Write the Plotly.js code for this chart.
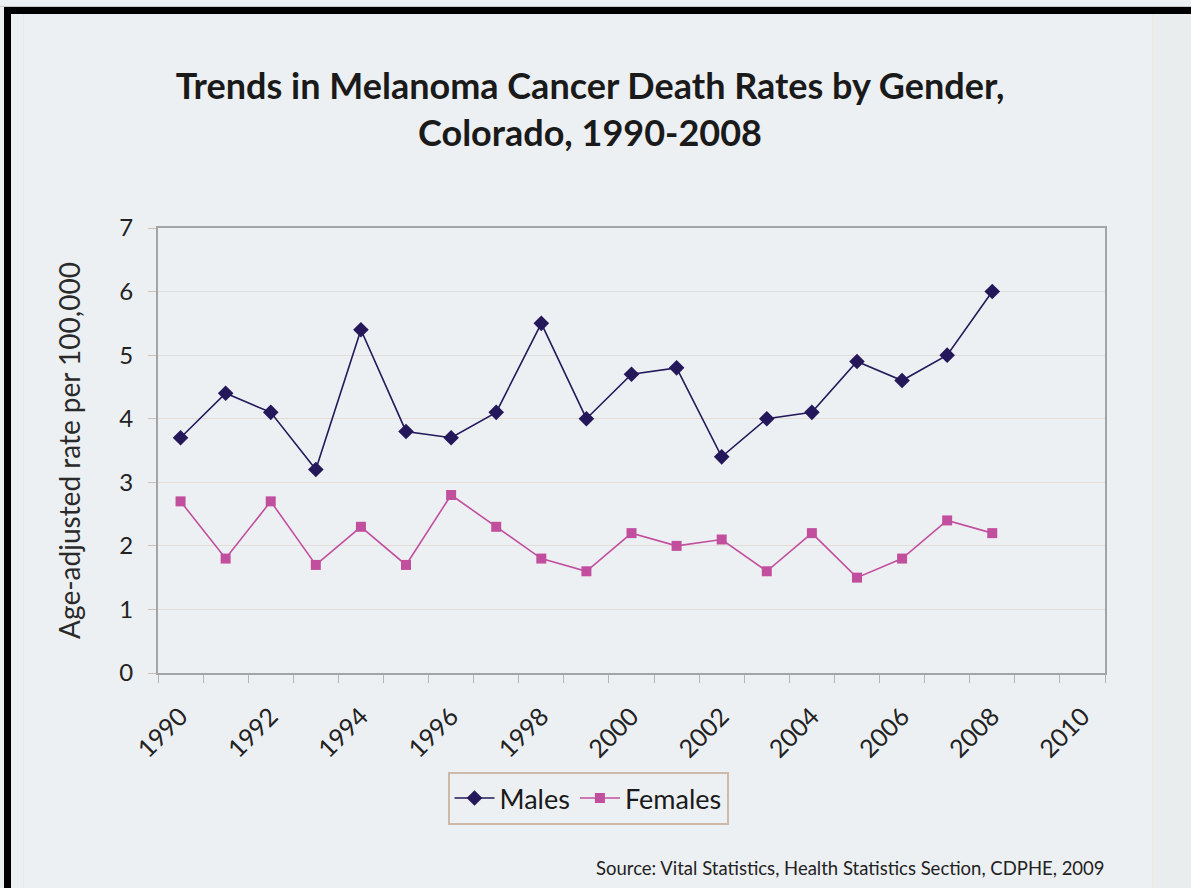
<!DOCTYPE html>
<html>
<head>
<meta charset="utf-8">
<script src="https://cdn.plot.ly/plotly-3.0.1.min.js"></script>
<style>
  html, body { margin: 0; padding: 0; background: #edf0f3; }
  #wrap { position: relative; width: 1191px; height: 888px; overflow: hidden; }
  #chart { position: absolute; left: 0; top: 0; width: 1191px; height: 888px; }
  .frame { position: absolute; pointer-events: none; }
</style>
</head>
<body>
<div id="wrap">
  <div id="chart"></div>
  <!-- slide frame around the chart -->
  <div class="frame" style="left:0;top:6px;width:1191px;height:1px;background:#c8c8c8;"></div>
  <div class="frame" style="left:4px;top:7px;width:1187px;height:7px;background:#000;"></div>
  <div class="frame" style="left:4px;top:7px;width:7px;height:881px;background:#000;"></div>
  <div class="frame" style="left:23px;top:14px;width:1px;height:874px;background:#f1e6de;"></div>
  <div class="frame" style="left:1152px;top:14px;width:39px;height:874px;background:#eaeded;border-left:1px solid #efe5de;"></div>
</div>
<script>
// Age-adjusted melanoma death rates per 100,000, Colorado
const years = [1990, 1991, 1992, 1993, 1994, 1995, 1996, 1997, 1998, 1999,
               2000, 2001, 2002, 2003, 2004, 2005, 2006, 2007, 2008];
const males = [3.7, 4.4, 4.1, 3.2, 5.4, 3.8, 3.7, 4.1, 5.5, 4.0,
               4.7, 4.8, 3.4, 4.0, 4.1, 4.9, 4.6, 5.0, 6.0];
const females = [2.7, 1.8, 2.7, 1.7, 2.3, 1.7, 2.8, 2.3, 1.8, 1.6,
                 2.2, 2.0, 2.1, 1.6, 2.2, 1.5, 1.8, 2.4, 2.2];
const yearTicks = [1990, 1992, 1994, 1996, 1998, 2000, 2002, 2004, 2006, 2008, 2010];
const yearTickText = yearTicks.map(String);
const rateTicks = [0, 1, 2, 3, 4, 5, 6, 7];

const maleColor = '#24185a';
const femaleColor = '#c24f9e';
const textFont = 'Lato, "Open Sans", sans-serif';

const traces = [
  {
    x: years, y: males, name: 'Males', type: 'scatter', mode: 'lines+markers',
    line: { color: maleColor, width: 1.6 },
    marker: { symbol: 'diamond', size: 12, color: maleColor }
  },
  {
    x: years, y: females, name: 'Females', type: 'scatter', mode: 'lines+markers',
    line: { color: femaleColor, width: 1.6 },
    marker: { symbol: 'square', size: 10, color: femaleColor }
  }
];

const layout = {
  width: 1191, height: 888,
  paper_bgcolor: '#edf0f3', plot_bgcolor: '#edf0f3',
  margin: { l: 158, r: 86, t: 228, b: 215 },
  font: { family: textFont, color: '#222' },
  showlegend: true,
  title: {
    text: 'Trends in Melanoma Cancer Death Rates by Gender,<br>Colorado, 1990-2008',
    font: { family: textFont, size: 36, color: '#1a1a1a', weight: 'bold' },
    xref: 'container', x: 0.4954, xanchor: 'center',
    yref: 'container', y: 1 - 99 / 888, yanchor: 'top'
  },
  xaxis: {
    range: [1989.5, 2010.5],
    tickmode: 'array', tickvals: yearTicks, ticktext: yearTickText,
    tickangle: -45, ticks: '', ticklabelstandoff: 17,
    tickfont: { family: textFont, size: 25, color: '#222' },
    showgrid: false, zeroline: false,
    showline: true, linecolor: '#a4a4a4', linewidth: 2, mirror: true,
    minor: { ticks: 'outside', ticklen: 8, tickcolor: '#b4b4b4', tick0: 1989.5, dtick: 1, showgrid: false }
  },
  yaxis: {
    range: [0, 7],
    tickmode: 'array', tickvals: rateTicks,
    ticks: 'outside', ticklen: 8, tickcolor: '#c9c2bc', ticklabelstandoff: 10,
    tickfont: { family: textFont, size: 24, color: '#222' },
    showgrid: true, gridcolor: '#e4dcd6', gridwidth: 1, zeroline: false,
    showline: true, linecolor: '#a4a4a4', linewidth: 2, mirror: true,
    title: { text: 'Age-adjusted rate per 100,000', standoff: 30,
             font: { family: textFont, size: 28, color: '#2a2a2a' } }
  },
  legend: {
    orientation: 'h',
    x: (588 - 158) / 947, xanchor: 'center',
    y: (673 - 772) / 445, yanchor: 'top',
    bgcolor: '#edf0f3', bordercolor: '#cdb9aa', borderwidth: 2,
    font: { family: textFont, size: 27, color: '#1a1a1a' },
    itemwidth: 40
  },
  annotations: [
    {
      text: 'Source: Vital Statistics, Health Statistics Section, CDPHE, 2009',
      xref: 'paper', yref: 'paper',
      x: (1107 - 158) / 947, xanchor: 'right',
      y: (673 - 868) / 445, yanchor: 'middle',
      showarrow: false,
      font: { family: textFont, size: 18.5, color: '#222' }
    }
  ]
};

Plotly.newPlot('chart', traces, layout, { displayModeBar: false, staticPlot: true });
</script>
</body>
</html>
